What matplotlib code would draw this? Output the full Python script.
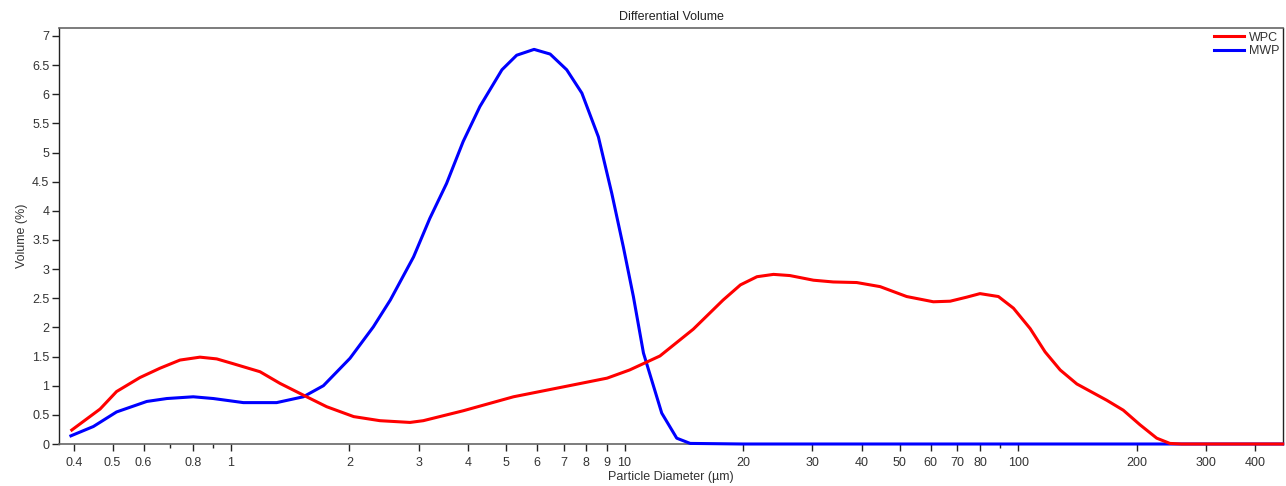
import matplotlib
matplotlib.use("Agg")
import matplotlib.pyplot as plt
from matplotlib.ticker import FixedLocator, FixedFormatter, NullFormatter

# WPC (red) data
wpc_x = [0.394, 0.465, 0.512, 0.587, 0.660, 0.742, 0.834, 0.920, 1.01, 1.185, 1.332,
         1.557, 1.75, 2.05, 2.39, 2.85, 3.08, 3.89, 5.22, 6.99, 9.03, 10.3, 12.3,
         14.95, 17.8, 19.7, 21.7, 23.9, 26.3, 30.2, 33.9, 38.9, 44.6, 52.1, 60.9,
         67.2, 74.1, 80.0, 89.1, 97.3, 107.3, 117.1, 127.9, 141, 168, 185, 204,
         225, 243, 260, 300, 400, 470]
wpc_y = [0.24, 0.60, 0.90, 1.14, 1.30, 1.44, 1.49, 1.46, 1.38, 1.24, 1.04,
         0.81, 0.64, 0.47, 0.40, 0.37, 0.40, 0.57, 0.81, 0.98, 1.13, 1.27, 1.51,
         1.97, 2.47, 2.73, 2.87, 2.91, 2.89, 2.81, 2.78, 2.77, 2.70, 2.53, 2.44,
         2.45, 2.52, 2.58, 2.53, 2.33, 1.98, 1.58, 1.27, 1.03, 0.75, 0.58, 0.33,
         0.10, 0.01, 0.0, 0.0, 0.0, 0.0]

# MWP (blue) data
mwp_x = [0.392, 0.447, 0.512, 0.611, 0.687, 0.802, 0.902, 1.075, 1.306, 1.527,
         1.717, 2.006, 2.30, 2.54, 2.91, 3.20, 3.53, 3.89, 4.29, 4.88, 5.32,
         5.89, 6.47, 7.13, 7.79, 8.58, 9.28, 9.93, 10.53, 11.17, 12.43, 13.57,
         14.68, 20, 50, 100, 200, 470]
mwp_y = [0.14, 0.30, 0.55, 0.73, 0.78, 0.81, 0.78, 0.71, 0.71, 0.81,
         1.00, 1.47, 2.01, 2.47, 3.21, 3.87, 4.47, 5.19, 5.79, 6.42, 6.67,
         6.77, 6.69, 6.42, 6.02, 5.27, 4.30, 3.38, 2.53, 1.56, 0.53, 0.10,
         0.01, 0.0, 0.0, 0.0, 0.0, 0.0]

x_major = [0.4, 0.5, 0.6, 0.8, 1, 2, 3, 4, 5, 6, 7, 8, 9, 10, 20, 30, 40, 50,
           60, 70, 80, 100, 200, 300, 400]
x_major_labels = ["0.4", "0.5", "0.6", "0.8", "1", "2", "3", "4", "5", "6", "7",
                  "8", "9", "10", "20", "30", "40", "50", "60", "70", "80", "100",
                  "200", "300", "400"]
x_minor = [0.7, 0.9, 90]
y_ticks = [0, 0.5, 1, 1.5, 2, 2.5, 3, 3.5, 4, 4.5, 5, 5.5, 6, 6.5, 7]
y_labels = ["0", "0.5", "1", "1.5", "2", "2.5", "3", "3.5", "4", "4.5", "5",
            "5.5", "6", "6.5", "7"]

plt.rcParams['font.family'] = ['Liberation Sans', 'DejaVu Sans']
plt.rcParams['font.size'] = 9

fig = plt.figure(figsize=(12.86, 4.86), dpi=100)
ax = fig.add_axes([59/1286, 42/486, (1283-59)/1286, (444-28)/486])

ax.plot(wpc_x, wpc_y, color='#ff0000', lw=2.2, label='WPC',
        solid_joinstyle='round', clip_on=False, zorder=4)
ax.plot(mwp_x, mwp_y, color='#0000ff', lw=2.2, label='MWP',
        solid_joinstyle='round', clip_on=False, zorder=3)

ax.set_xscale('log')
ax.set_xlim(0.3656, 471)
ax.set_ylim(0, 7.137)

ax.xaxis.set_major_locator(FixedLocator(x_major))
ax.xaxis.set_major_formatter(FixedFormatter(x_major_labels))
ax.xaxis.set_minor_locator(FixedLocator(x_minor))
ax.xaxis.set_minor_formatter(NullFormatter())
ax.yaxis.set_major_locator(FixedLocator(y_ticks))
ax.yaxis.set_major_formatter(FixedFormatter(y_labels))
ax.yaxis.set_minor_locator(FixedLocator([]))

ax.tick_params(axis='x', which='major', length=5, width=1, color='#222222',
               labelsize=9, labelcolor='#333333', pad=4)
ax.tick_params(axis='x', which='minor', length=3, width=1, color='#222222')
ax.tick_params(axis='y', which='major', length=5, width=1, color='#222222',
               labelsize=9, labelcolor='#333333', pad=2)

for side in ['top', 'bottom']:
    ax.spines[side].set_color('#666666')
    ax.spines[side].set_linewidth(1.2)
for side in ['left', 'right']:
    ax.spines[side].set_color('#222222')
    ax.spines[side].set_linewidth(1.0)

ax.set_title('Differential Volume', fontsize=9, color='#222222', pad=6)
ax.set_xlabel('Particle Diameter (µm)', fontsize=9, color='#333333', labelpad=2)
ax.set_ylabel('Volume (%)', fontsize=9, color='#333333', labelpad=3)

leg = ax.legend(loc='upper right', frameon=False, fontsize=9, handlelength=2.4,
                handletextpad=0.4, labelspacing=0.1, borderaxespad=0.1,
                borderpad=0.2)
for t in leg.get_texts():
    t.set_color('#333333')

fig.savefig('out.png', dpi=100)
